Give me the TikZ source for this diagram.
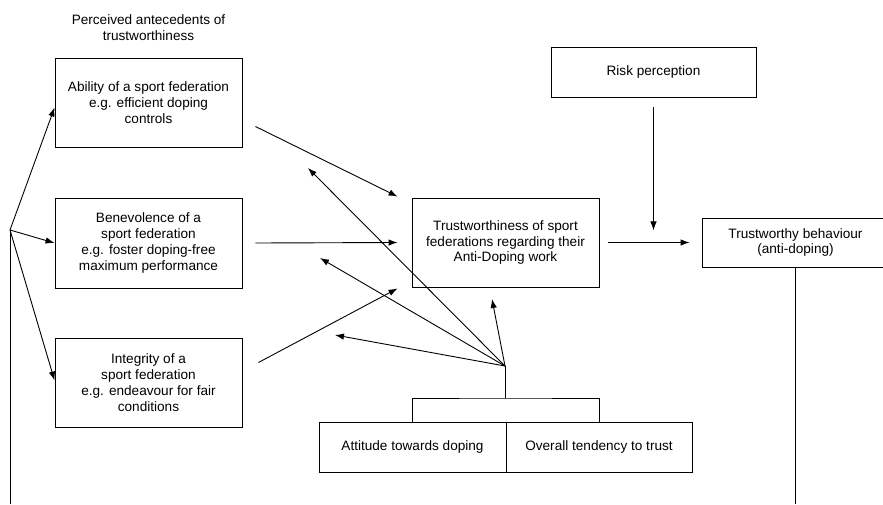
\documentclass[tikz,border=0pt]{standalone}
\usepackage{fontspec}
\setmainfont{Liberation Sans}
\usetikzlibrary{arrows.meta,calc,positioning}

\tikzset{
  box/.style={draw,line width=0.9pt,align=center,inner sep=2pt,
    minimum width=187pt,minimum height=89pt},
  flatbox/.style={box,minimum height=50pt}
}

\begin{document}
\begin{tikzpicture}[x=1pt,y=-1pt,line width=0.9pt,
    >={Latex[length=9pt,width=6.5pt]},
    font=\fontsize{13.6}{15.8}\selectfont]
    \clip (0,0) rectangle (883,504);
    % --- antecedents ---
    \node[align=center] (title) at (148.5,28) {Perceived antecedents of\\trustworthiness};
    \node[box] (abil) at (148.5,102.5) {Ability of a sport federation\\e.g. efficient doping\\controls};
    \node[box,minimum height=90pt] (bene) at (148.5,243) {Benevolence of a\\sport federation\\e.g. foster doping-free\\maximum performance};
    \node[box] (integ) at (148.5,382.5) {Integrity of a\\sport federation\\e.g. endeavour for fair\\conditions};
    % --- centre and outcome ---
    \node[box] (trust) at (505.5,242.5) {Trustworthiness of sport\\federations regarding their\\Anti-Doping work};
    \node[flatbox,minimum width=205pt] (risk) at (653.5,72) {Risk perception};
    \node[flatbox,minimum height=49pt] (behav) at (795.5,242.5) {Trustworthy behaviour\\(anti-doping)};
    % --- person variables ---
    \node[flatbox] (att) at (412.5,447) {Attitude towards doping};
    \node[flatbox,minimum width=186pt] (over) at (599,447) {Overall tendency to trust};

    % free ends
    \coordinate (hub) at (505,366);
    \coordinate (fork) at (10,230);
    \coordinate (top) at (505,398);

    % --- antecedents -> trustworthiness ---
    \draw[->] ($(abil.east)+(13,24)$) -- ($(trust.north west)+(-14,-1)$);
    \draw[->] ($(bene.east)+(13,0)$) -- ($(trust.west)+(-14,0)$);
    \draw[->] ($(integ.east)+(16,-20)$) -- ($(trust.south west)+(-14,1)$);
    % --- moderators ---
    \draw[->] ($(risk.south)+(0,10)$) -- ($(risk.south)+(0,133)$);
    \draw[->] ($(trust.east)+(9,0)$) -- ($(behav.west)+(-12,0)$);
    % --- person variables ---
    \draw (att.north) |- (top) -| (over.north);
    \draw (top) -- (hub);
    \draw[->] (hub) -- (308,168);
    \draw[->] (hub) -- (320,258);
    \draw[->] (hub) -- (335,335);
    \draw[->] (hub) -- (492,299);
    % --- feedback ---
    \draw (behav.south) -- (795.5,504);
    \draw (10,504) -- (fork);
    \draw[->] (fork) -- ($(abil.west)+(0,5)$);
    \draw[->] (fork) -- (bene.west);
    \draw[->] (fork) -- ($(integ.west)+(0,-2)$);
\end{tikzpicture}
\end{document}
